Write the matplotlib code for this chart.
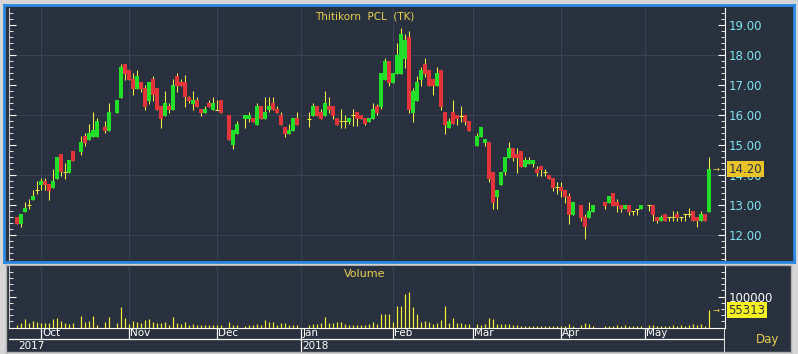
import numpy as np
import pandas as pd
import matplotlib
matplotlib.use("Agg")
import matplotlib.pyplot as plt
from matplotlib.ticker import MultipleLocator, FixedLocator, NullFormatter

# daily OHLC, None = holiday (no trade)
opens = [12.60, 12.37, 12.77, 13.00, 13.17, 13.50, 13.67, 13.80, 13.70, 13.57,
         13.87, 14.70, 14.10, 14.07, 14.80, None, 14.77, 15.30, 15.17, 15.27,
         15.27, None, 15.60, 15.47, None, 16.07, 16.57, 17.70, 17.50, 17.20,
         16.87, 17.10, 16.90, 16.47, 17.20, 16.90, 16.30, 15.97, 16.30, 16.17,
         17.30, 17.10, 17.10, 16.60, 16.37, 16.50, 16.20, 16.07, 16.40, 16.17,
         16.17, 16.50, None, 16.00, 15.00, 15.37, None, 15.87, 15.87, 15.90,
         15.67, 16.30, 15.87, 16.17, 16.40, 16.20, 16.00, 15.60, 15.37, 15.47,
         15.90, None, None, 15.87, 15.97, 16.30, 16.10, 15.97, 16.30, 16.30,
         15.90, 15.80, 15.80, 15.77, 16.00, 16.10, 16.00, 15.90, 15.77, 15.87,
         16.30, 16.27, 17.17, 17.80, 17.07, 17.37, 17.37, 17.87, 18.60, 16.07,
         16.47, 17.17, 17.70, 17.50, 17.20, 16.97, 17.50, 16.10, 15.57, 16.10,
         16.00, 15.97, 16.00, 15.80, None, 14.97, 15.27, 15.07, 15.10, 14.10,
         13.27, 13.67, 14.10, 14.57, 14.90, 14.70, 14.80, 14.27, 14.37, 14.37,
         14.20, 14.30, 14.10, 14.00, 13.90, 13.60, 13.60, 13.50, 13.30, 12.67,
         None, 13.00, 12.60, 12.57, 12.77, None, None, 13.10, 13.07, 13.40,
         13.10, 13.00, 12.87, 13.00, 12.80, 12.87, 12.87, None, 13.00, 13.00,
         12.60, 12.47, 12.70, 12.60, 12.60, 12.70, 12.60, 12.70, 12.70, 12.80,
         12.60, 12.47, 12.70, 12.77]
highs = [12.60, 12.70, 13.10, 13.20, 13.50, 13.80, 13.90, 13.90, 13.70, 14.20,
         14.60, 14.70, 14.40, 14.50, 14.80, None, 15.30, 15.40, 15.70, 16.10,
         15.90, None, 15.80, 16.40, None, 16.50, 17.70, 17.70, 17.50, 17.40,
         17.50, 17.10, 17.00, 17.10, 17.30, 16.90, 16.30, 16.80, 16.40, 17.20,
         17.40, 17.20, 17.33, 16.65, 16.80, 16.60, 16.20, 16.30, 16.50, 16.60,
         16.50, 16.50, None, 16.00, 15.50, 15.80, None, 16.00, 16.10, 15.90,
         16.40, 16.30, 16.60, 16.60, 16.60, 16.30, 16.10, 15.60, 15.70, 15.90,
         16.10, None, None, 16.10, 16.40, 16.30, 16.20, 16.80, 16.60, 16.30,
         15.90, 16.20, 16.00, 15.90, 16.20, 16.10, 16.00, 15.90, 15.90, 16.40,
         16.37, 17.40, 17.90, 17.80, 17.40, 18.40, 18.90, 18.70, 18.80, 16.90,
         17.30, 17.60, 17.90, 17.50, 17.20, 17.60, 17.50, 16.10, 15.90, 16.50,
         16.00, 16.30, 16.00, 15.80, None, 15.40, 15.60, 15.20, 15.10, 14.10,
         13.50, 14.10, 14.60, 15.10, 14.90, 14.90, 14.80, 14.60, 14.60, 14.50,
         14.30, 14.30, 14.20, 14.00, 13.90, 13.77, 13.77, 13.50, 13.40, 13.10,
         None, 13.00, 12.70, 13.10, 13.00, None, None, 13.10, 13.30, 13.40,
         13.20, 13.00, 13.00, 13.00, 12.80, 12.87, 13.00, None, 13.00, 13.00,
         12.60, 12.67, 12.70, 12.60, 12.80, 12.80, 12.60, 12.70, 12.90, 12.80,
         12.60, 12.80, 12.70, 14.60]
lows = [12.37, 12.27, 12.77, 12.87, 13.17, 13.37, 13.50, 13.50, 13.17, 13.57,
        13.87, 13.97, 13.87, 14.07, 14.47, None, 14.67, 14.97, 15.17, 15.27,
        15.27, None, 15.40, 15.47, None, 16.07, 16.57, 17.17, 17.17, 16.67,
        16.87, 16.77, 16.17, 16.37, 16.47, 16.17, 15.57, 15.97, 16.07, 16.17,
        16.77, 16.97, 16.27, 16.40, 16.17, 16.27, 15.97, 16.07, 16.27, 16.17,
        16.17, 16.07, None, 15.17, 14.87, 15.37, None, 15.57, 15.77, 15.77,
        15.67, 15.87, 15.87, 16.10, 16.17, 16.07, 15.67, 15.27, 15.37, 15.47,
        15.67, None, None, 15.60, 15.97, 15.97, 15.87, 15.97, 16.07, 15.87,
        15.67, 15.57, 15.57, 15.70, 15.63, 15.63, 15.87, 15.67, 15.77, 15.87,
        16.00, 16.20, 17.17, 16.97, 17.07, 17.37, 17.37, 17.57, 16.07, 15.77,
        16.47, 16.97, 17.27, 16.97, 16.67, 16.97, 16.17, 15.37, 15.57, 15.70,
        15.67, 15.77, 15.67, 15.47, None, 14.97, 15.27, 14.97, 13.77, 12.87,
        12.87, 13.67, 14.00, 14.57, 14.47, 14.07, 14.27, 14.27, 14.37, 14.27,
        13.97, 13.97, 13.97, 13.87, 13.47, 13.37, 13.27, 13.07, 12.37, 12.67,
        None, 12.47, 11.87, 12.57, 12.77, None, None, 12.87, 13.07, 12.97,
        12.77, 12.77, 12.87, 12.67, 12.67, 12.67, 12.87, None, 12.80, 12.47,
        12.40, 12.47, 12.47, 12.47, 12.47, 12.47, 12.47, 12.47, 12.60, 12.47,
        12.27, 12.47, 12.47, 12.77]
closes = [12.37, 12.70, 12.90, 13.00, 13.30, 13.50, 13.80, 13.67, 13.47, 13.80,
          14.60, 14.10, 14.10, 14.50, 14.47, None, 15.10, 15.07, 15.40, 15.50,
          15.80, None, 15.47, 16.10, None, 16.50, 17.60, 17.37, 17.17, 16.87,
          17.30, 16.87, 16.27, 17.10, 16.67, 16.17, 15.87, 16.40, 16.17, 17.00,
          16.97, 16.97, 16.60, 16.47, 16.50, 16.27, 16.07, 16.20, 16.27, 16.40,
          16.17, 16.07, None, 15.17, 15.50, 15.70, None, 16.00, 16.00, 15.77,
          16.30, 15.87, 16.10, 16.30, 16.17, 16.07, 15.67, 15.37, 15.50, 15.90,
          15.67, None, None, 15.87, 16.30, 15.97, 15.87, 16.40, 16.17, 15.97,
          15.67, 15.80, 15.80, 15.90, 16.00, 15.87, 15.87, 15.70, 15.90, 16.20,
          16.07, 17.40, 17.80, 17.07, 17.40, 18.00, 18.70, 18.50, 16.17, 16.80,
          17.10, 17.50, 17.37, 16.97, 16.97, 17.40, 16.27, 15.67, 15.80, 15.70,
          15.87, 15.97, 15.77, 15.47, None, 15.30, 15.60, 15.20, 13.87, 13.07,
          13.50, 14.10, 14.60, 14.90, 14.57, 14.57, 14.27, 14.50, 14.50, 14.50,
          14.07, 14.17, 14.10, 13.87, 13.57, 13.60, 13.47, 13.27, 12.67, 13.10,
          None, 12.57, 12.27, 12.80, 13.00, None, None, 12.97, 13.30, 12.97,
          12.97, 12.87, 13.00, 12.77, 12.80, 12.87, 13.00, None, 13.00, 12.67,
          12.47, 12.60, 12.47, 12.60, 12.60, 12.57, 12.60, 12.70, 12.70, 12.47,
          12.47, 12.70, 12.47, 14.20]
volumes = [6500, 15000, 28000, 15000, 21500, 17000, 15000, 15000, 15000, 28000,
           31000, 21500, 15000, 12000, 15000, None, 37500, 18500, 21500, 37500,
           8500, None, 18500, 34500, None, 15000, 66500, 31000, 12000, 21500,
           18500, 15000, 24500, 28000, 17000, 15000, 15000, 18500, 8500, 34500,
           15000, 12000, 18500, 8500, 12000, 8500, 8500, 6500, 8500, 8500,
           6500, 8500, None, 18500, 8500, 6500, None, 5500, 6500, 6500,
           12000, 8500, 24500, 18500, 18500, 8500, 15000, 15000, 8500, 6500,
           6500, None, None, 8500, 12000, 12000, 15000, 34500, 15000, 15000,
           18500, 18500, 12000, 8500, 6500, 8500, 8500, 8500, 12000, 18500,
           12000, 44000, 44000, 44000, 18500, 70000, 70000, 108500, 115000, 66500,
           44000, 18500, 21500, 18500, 12000, 15000, 24500, 70000, 15000, 31000,
           15000, 15000, 12000, 12000, None, 12000, 8500, 12000, 31000, 28000,
           12000, 12000, 12000, 12000, 8500, 8500, 5500, 3500, 3500, 3500,
           3500, 3500, 3500, 3500, 3500, 3500, 5500, 5500, 12000, 5500,
           None, 8500, 15000, 12000, 5500, None, None, 5500, 5500, 5500,
           8500, 5500, 8500, 5500, 5500, 5500, 5500, None, 8500, 8500,
           5500, 5500, 5500, 5500, 8500, 5500, 8500, 5500, 8500, 12000,
           8500, 12000, 5500, 55313]
start_date = '2017-09-22'
title = 'Thitikorn  PCL  (TK)'

BG = '#29303e'
GRID = '#394252'
GREEN = '#22e02a'
RED = '#e2343a'
WICK = '#f4f040'
VOLC = '#f8f030'
YEL = '#e8d050'
CYAN = '#80e4ee'
W, H = 798, 354

o = np.array(opens, dtype=float)
h = np.array(highs, dtype=float)
l = np.array(lows, dtype=float)
c = np.array(closes, dtype=float)
v = np.array(volumes, dtype=float)
x = np.arange(len(o))
dates = pd.bdate_range(start_date, periods=len(o))
month_starts = [i for i in range(1, len(dates)) if dates[i].month != dates[i - 1].month]

def rect(px0, py0, px1, py1):
    return [px0 / W, 1 - py1 / H, (px1 - px0) / W, (py1 - py0) / H]

fig = plt.figure(figsize=(W / 100, H / 100), dpi=100, facecolor='#d6d6d6')

# panel backgrounds
bg1 = fig.add_axes(rect(4, 5, 794, 262))
bg1.set_facecolor(BG)
bg1.set_xticks([]); bg1.set_yticks([])
for s in bg1.spines.values():
    s.set_color('#2a88e2'); s.set_linewidth(2)
bg2 = fig.add_axes(rect(6, 265, 791, 352))
bg2.set_facecolor(BG)
bg2.set_xticks([]); bg2.set_yticks([])
for s in bg2.spines.values():
    s.set_color('#b0b0b0'); s.set_linewidth(1)
top = fig.add_axes(rect(206, 0, 794, 4))
top.set_facecolor('white'); top.axis('off')
top.patch.set_visible(True)

xl = (-2, 177)

# price panel
ax1 = fig.add_axes(rect(9, 8, 725, 260))
ax1.set_facecolor(BG)
ax1.set_xlim(*xl)
ax1.set_ylim(11.167, 19.567)
for y in [12, 14, 16, 18]:
    ax1.axhline(y, color=GRID, lw=0.8, zorder=0)
for m in month_starts:
    ax1.axvline(m, color=GRID, lw=0.8, zorder=0)
ok = ~np.isnan(o)
ax1.vlines(x[ok], l[ok], h[ok], color=WICK, lw=0.75, zorder=2)
up = ok & (c > o)
dn = ok & (c < o)
fl = ok & (c == o)
ax1.bar(x[up], (c - o)[up], bottom=o[up], width=0.8, color=GREEN, lw=0, zorder=3)
ax1.bar(x[dn], (o - c)[dn], bottom=c[dn], width=0.8, color=RED, lw=0, zorder=3)
ax1.hlines(o[fl], x[fl] - 0.45, x[fl] + 0.45, color=WICK, lw=0.75, zorder=3)
ax1.text(0.497, 0.967, title, transform=ax1.transAxes, ha='center', va='center',
         color=YEL, fontsize=7.5)
ax1.yaxis.set_major_locator(MultipleLocator(1))
ax1.yaxis.set_minor_locator(MultipleLocator(0.2))
ax1.yaxis.set_major_formatter(lambda val, pos: f'{val:.2f}')
ax1.tick_params(axis='y', which='both', left=True, right=True, labelleft=False,
                labelright=True, direction='in', color='white')
ax1.tick_params(axis='y', which='major', length=5, width=0.8, labelsize=8.5,
                labelcolor=CYAN, pad=3)
ax1.tick_params(axis='y', which='minor', length=3, width=0.6)
ax1.set_xticks([])
for k in ['top', 'bottom']:
    ax1.spines[k].set_visible(False)
ax1.spines['left'].set_color('#c8c8c8')
ax1.spines['right'].set_color('white')
last = c[-1]
ax1.text(1.005, last, f'{last:.2f}', transform=ax1.get_yaxis_transform(), ha='left',
         va='center', color='#2a3040', fontsize=8.5, clip_on=False, zorder=5,
         bbox=dict(boxstyle='square,pad=0.12', fc='#e8c428', ec='none'))
ax1.text(0.988, last, '→', transform=ax1.get_yaxis_transform(), ha='center',
         va='center', color=YEL, fontsize=6)

# volume panel
ax2 = fig.add_axes(rect(9, 266, 725, 327.5))
ax2.set_facecolor(BG)
ax2.set_xlim(*xl)
ax2.set_ylim(0, 198400)
for m in month_starts:
    ax2.axvline(m, color=GRID, lw=0.8, zorder=0)
okv = ~np.isnan(v)
ax2.vlines(x[okv], 0, v[okv], color=VOLC, lw=0.85)
ax2.text(0.497, 0.87, 'Volume', transform=ax2.transAxes, ha='center', va='center',
         color=YEL, fontsize=8)
ax2.yaxis.set_major_locator(FixedLocator([100000]))
ax2.yaxis.set_minor_locator(MultipleLocator(20000))
ax2.yaxis.set_minor_formatter(NullFormatter())
ax2.tick_params(axis='y', which='both', left=True, right=True, labelleft=False,
                labelright=True, direction='in', color='white')
ax2.tick_params(axis='y', which='major', length=5, width=0.8, labelsize=8.5,
                labelcolor='white', pad=3)
ax2.tick_params(axis='y', which='minor', length=3, width=0.6)
ax2.set_xticks([])
ax2.spines['top'].set_visible(False)
ax2.spines['left'].set_color('#c8c8c8')
ax2.spines['right'].set_color('white')
ax2.spines['bottom'].set_color('white')
lastv = v[-1]
ax2.text(1.005, lastv, f'{lastv:.0f}', transform=ax2.get_yaxis_transform(), ha='left',
         va='center', color='#2a3040', fontsize=8.5, clip_on=False, zorder=5,
         bbox=dict(boxstyle='square,pad=0.12', fc='#f6f020', ec='none'))
ax2.text(0.988, lastv, '→', transform=ax2.get_yaxis_transform(), ha='center',
         va='center', color=YEL, fontsize=6)

# date strip
ax3 = fig.add_axes(rect(9, 327.5, 725, 352))
ax3.set_facecolor(BG)
ax3.set_xlim(*xl)
ax3.set_ylim(0, 1)
ax3.axis('off')
ax3.axhline(0.52, color='white', lw=0.9)
ax3.axvline(177, color='white', lw=1.2)
for m in month_starts:
    ax3.plot([m, m], [0.52, 1], color='white', lw=0.9)
    ax3.text(m + 0.3, 0.76, dates[m].strftime('%b'), color='white', fontsize=7.5,
             ha='left', va='center')
year_starts = [0] + [m for m in month_starts if dates[m].month == 1]
for ys in year_starts:
    if ys > 0:
        ax3.plot([ys, ys], [0, 0.52], color='white', lw=0.9)
    ax3.text(ys + 0.3, 0.26, str(dates[ys].year), color='white', fontsize=7.5,
             ha='left', va='center')
fig.text(768 / W, 1 - 340 / H, 'Day', color=YEL, fontsize=8.5, ha='center', va='center')

fig.savefig('out.png', dpi=100, facecolor=fig.get_facecolor())
